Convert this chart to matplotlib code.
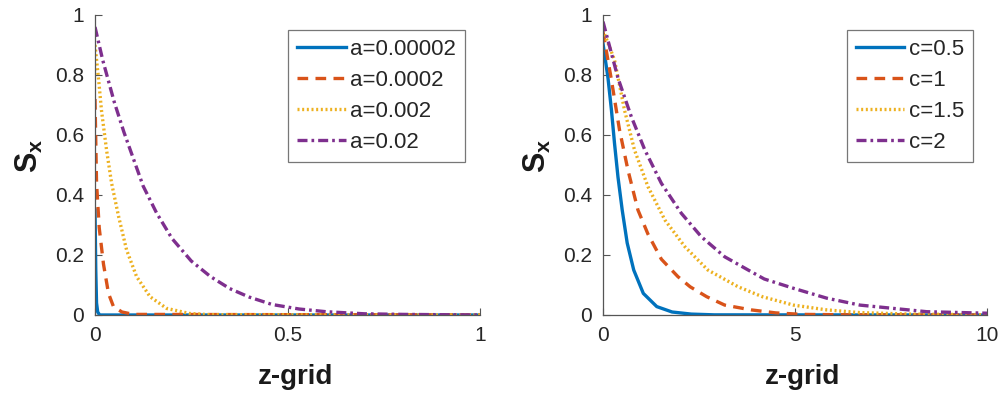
import matplotlib
matplotlib.use("Agg")
import matplotlib.pyplot as plt

plt.rcParams["font.family"] = ["Liberation Sans", "DejaVu Sans"]
plt.rcParams["mathtext.fontset"] = "custom"
plt.rcParams["mathtext.rm"] = "Liberation Sans"
plt.rcParams["mathtext.bf"] = "Liberation Sans:bold"

# left panel: parameter a, z-grid in [0, 1]
a_labels = ["a=0.00002", "a=0.0002", "a=0.002", "a=0.02"]
a1_x = [0, 0.002, 0.004, 0.007, 0.012, 1.0]
a1_y = [0.35, 0.15, 0.04, 0.01, 0.0, 0.0]
a2_x = [0, 0.004, 0.011, 0.022, 0.035, 0.048, 0.07, 0.1, 1.0]
a2_y = [0.72, 0.44, 0.29, 0.17, 0.072, 0.028, 0.01, 0.002, 0.0]
a3_x = [0, 0.009, 0.017, 0.03, 0.043, 0.061, 0.082, 0.108, 0.143, 0.186, 0.246, 0.3, 1.0]
a3_y = [0.90, 0.79, 0.68, 0.55, 0.44, 0.33, 0.217, 0.128, 0.061, 0.022, 0.005, 0.001, 0.0]
a4_x = [0, 0.02, 0.05, 0.075, 0.1, 0.125, 0.16, 0.2, 0.25, 0.3, 0.35, 0.4,
        0.46, 0.53, 0.6, 0.7, 0.8, 1.0]
a4_y = [0.96, 0.85, 0.71, 0.61, 0.52, 0.43, 0.34, 0.255, 0.18, 0.128, 0.088, 0.06,
        0.035, 0.02, 0.011, 0.004, 0.002, 0.0]

# right panel: parameter c, z-grid in [0, 10]
c_labels = ["c=0.5", "c=1", "c=1.5", "c=2"]
c1_x = [0, 0.13, 0.22, 0.30, 0.39, 0.5, 0.63, 0.8, 1.05, 1.4, 1.8, 2.3, 2.9, 10.0]
c1_y = [0.905, 0.79, 0.683, 0.572, 0.46, 0.35, 0.24, 0.15, 0.072, 0.028, 0.01, 0.003,
        0.0005, 0.0]
c2_x = [0, 0.22, 0.43, 0.65, 0.91, 1.17, 1.52, 1.95, 2.27, 2.7, 3.17, 3.86, 4.5, 5.2,
        6.5, 10.0]
c2_y = [0.944, 0.783, 0.617, 0.483, 0.35, 0.27, 0.186, 0.128, 0.094, 0.061, 0.033,
        0.017, 0.007, 0.002, 0.0005, 0.0]
c3_x = [0, 0.30, 0.56, 0.82, 1.17, 1.61, 2.13, 2.73, 3.52, 4.15, 4.96, 5.83, 6.69, 8.0, 10.0]
c3_y = [0.95, 0.85, 0.683, 0.55, 0.428, 0.317, 0.228, 0.15, 0.094, 0.061, 0.033, 0.017,
        0.008, 0.003, 0.001]
c4_x = [0, 0.39, 0.74, 1.09, 1.52, 2.04, 2.56, 3.17, 3.78, 4.2, 4.96, 5.83, 6.69, 7.56,
        8.43, 10.0]
c4_y = [0.978, 0.79, 0.66, 0.55, 0.439, 0.339, 0.261, 0.194, 0.15, 0.12, 0.089, 0.056,
        0.033, 0.022, 0.011, 0.006]

colors = ["#0072BD", "#D95319", "#EDB120", "#7E2F8E"]
styles = ["-", (0, (3.2, 2.2)), (0, (0.6, 0.8)), (0, (3.0, 1.2, 0.8, 1.2))]

fig = plt.figure(figsize=(10.02, 3.99), dpi=100)
ax_a = fig.add_axes([95 / 1002, 84 / 399, 385 / 1002, 300 / 399])
ax_c = fig.add_axes([603 / 1002, 84 / 399, 384 / 1002, 300 / 399])


def draw_panel(ax, xs, ys, labels, xmax, xticks, xticklabels, legend_corner):
    for x, y, lab, col, ls in zip(xs, ys, labels, colors, styles):
        ax.plot(x, y, color=col, linestyle=ls, linewidth=2.4, label=lab)
    ax.set_xlim(0, xmax)
    ax.set_ylim(0, 1)
    ax.set_xticks(xticks)
    ax.set_xticklabels(xticklabels)
    ax.set_yticks([0, 0.2, 0.4, 0.6, 0.8, 1])
    ax.set_yticklabels(["0", "0.2", "0.4", "0.6", "0.8", "1"])
    for side in ("top", "right"):
        ax.spines[side].set_visible(False)
    for side in ("left", "bottom"):
        ax.spines[side].set_color("#555555")
        ax.spines[side].set_linewidth(0.9)
    ax.tick_params(direction="in", length=5, width=0.8, color="#555555",
                   labelsize=15, labelcolor="#262626", pad=8)
    ax.set_xlabel("z-grid", fontsize=20, fontweight="bold", color="#1a1a1a")
    ax.xaxis.set_label_coords(0.52, -0.165)
    ax.set_ylabel(r"$\mathbf{S_x}$", fontsize=22, color="#1a1a1a")
    ax.yaxis.set_label_coords(-0.13, 0.53)
    leg = ax.legend(loc="upper right", bbox_to_anchor=legend_corner,
                    bbox_transform=fig.transFigure, fontsize=16, frameon=True,
                    fancybox=False, handlelength=2.2, handletextpad=0.2,
                    labelspacing=0.45, borderpad=0.4, borderaxespad=0)
    leg.get_frame().set_edgecolor("#555555")
    leg.get_frame().set_linewidth(0.9)
    for t in leg.get_texts():
        t.set_color("#262626")


draw_panel(ax_a, [a1_x, a2_x, a3_x, a4_x], [a1_y, a2_y, a3_y, a4_y], a_labels,
           1, [0, 0.5, 1], ["0", "0.5", "1"], (465 / 1002, 369 / 399))
draw_panel(ax_c, [c1_x, c2_x, c3_x, c4_x], [c1_y, c2_y, c3_y, c4_y], c_labels,
           10, [0, 5, 10], ["0", "5", "10"], (973 / 1002, 369 / 399))

fig.savefig("out.png", dpi=100)
